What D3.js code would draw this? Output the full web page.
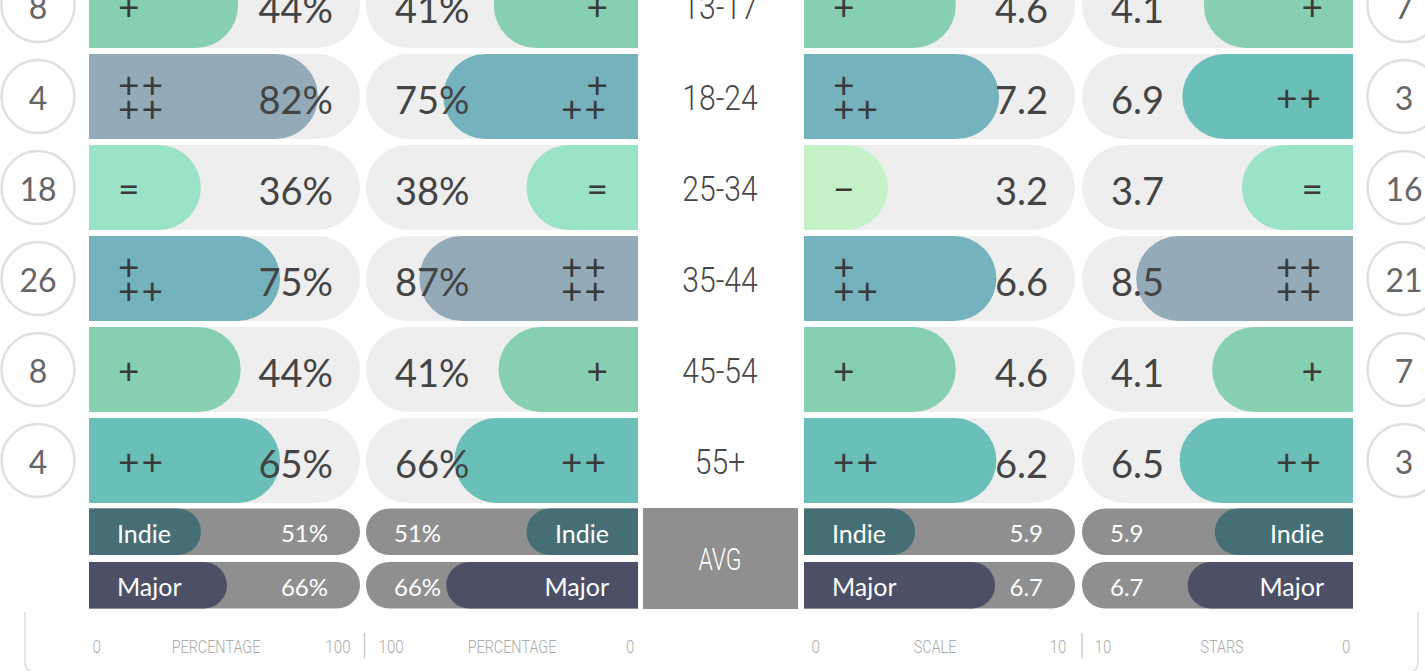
<!DOCTYPE html>
<html><head><meta charset="utf-8">
<script src="https://cdn.jsdelivr.net/npm/d3@7"></script>
<style>body{margin:0;background:#fff;overflow:hidden} svg{display:block}</style>
</head><body><svg id="c" width="1425" height="671"></svg>
<script>
// ---------- data ----------
const ages = ["13-17", "18-24", "25-34", "35-44", "45-54", "55+"];
const countLeft  = [8, 4, 18, 26, 8, 4];
const countRight = [7, 3, 16, 21, 7, 3];

const pctLeft   = [44, 82, 36, 75, 44, 65];      // label values (%)
const pctRight  = [41, 75, 38, 87, 41, 66];
const scaleVals = [4.6, 7.2, 3.2, 6.6, 4.6, 6.2];
const starVals  = [4.1, 6.9, 3.7, 8.5, 4.1, 6.5];

// bar extents (axis units)
const barPctLeft  = [55, 84.5, 41.3, 70.5, 56, 70.5];
const barPctRight = [53, 71.6, 41, 80.4, 51.3, 67.5];
const barScale    = [5.6, 7.2, 3.1, 7.1, 5.6, 7.1];
const barStars    = [5.5, 6.3, 4.1, 8.0, 5.2, 6.4];

const symLeft  = ["+", "++++", "=", "+++", "+", "++"];
const symRight = ["+", "+++", "=", "++++", "+", "++"];
const symScale = ["+", "+++", "−", "+++", "+", "++"];
const symStars = ["+", "++", "=", "++++", "+", "++"];

const avgGroups    = ["Indie", "Major"];
const avgPctLeft   = ["51%", "66%"];
const avgPctRight  = ["51%", "66%"];
const avgScale     = ["5.9", "6.7"];
const avgStars     = ["5.9", "6.7"];
const avgBarPctL   = [41.3, 50.9];
const avgBarPctR   = [41, 70.5];
const avgBarScale  = [4.1, 7.05];
const avgBarStars  = [5.1, 6.1];

const axisLabels = ["PERCENTAGE", "PERCENTAGE", "SCALE", "STARS"];
const axisTicksPct = [0, 100];
const axisTicksTen = [0, 10];

// ---------- styles ----------
const symColor = {"−": "#c5f2c7", "=": "#9ae3c7", "+": "#86cfb0", "++": "#6abfb8", "+++": "#74b3bd", "++++": "#93abb9"};
const groupColor = {"Indie": "#466f75", "Major": "#4b5066"};
const VALFONT = "Lato, 'Open Sans', sans-serif";
const NARROW = "Roboto, 'Liberation Sans', sans-serif";
const SQ = 0.84;

const svg = d3.select("#c");

// ---------- scales ----------
const y = d3.scaleBand().domain(ages).range([-40, -40 + 91 * 6]).paddingInner(6 / 91).paddingOuter(3 / 91);
const yAvg = d3.scaleBand().domain(avgGroups).range([505, 612]).paddingInner(7 / 54).paddingOuter(3.5 / 54);
const xPL = d3.scaleLinear().domain([0, 100]).range([89, 360]);
const xPR = d3.scaleLinear().domain([0, 100]).range([638, 366]);
const xSc = d3.scaleLinear().domain([0, 10]).range([804, 1075]);
const xSt = d3.scaleLinear().domain([0, 10]).range([1353, 1082]);

function pillRight(x0, x1, yy, h) {
  const r = Math.min(h / 2, x1 - x0);
  return `M${x0},${yy}H${x1 - r}A${r},${r} 0 0 1 ${x1 - r},${yy + h}H${x0}Z`;
}
function pillLeft(x0, x1, yy, h) {
  const r = Math.min(h / 2, x1 - x0);
  return `M${x1},${yy}H${x0 + r}A${r},${r} 0 0 0 ${x0 + r},${yy + h}H${x1}Z`;
}
function narrow(g, x, yy, txt, size, fill, anchor, sq) {
  return g.append("text")
    .attr("transform", `translate(${x},${yy}) scale(${sq || SQ},1)`)
    .attr("text-anchor", anchor || "middle").attr("dominant-baseline", "central")
    .attr("font-family", NARROW).attr("font-weight", 300)
    .attr("font-size", size).attr("fill", fill).text(txt);
}

// ---------- circles ----------
function circles(cx, counts) {
  const g = svg.append("g");
  g.selectAll("circle").data(ages).join("circle")
    .attr("cx", cx).attr("cy", d => y(d) + y.bandwidth() / 2).attr("r", 36.5)
    .attr("fill", "#fff").attr("stroke", "#e0e0e0").attr("stroke-width", 2.5);
  g.selectAll("text").data(ages).join("text")
    .attr("x", cx).attr("y", (d) => y(d) + y.bandwidth() / 2 + 1)
    .attr("text-anchor", "middle").attr("dominant-baseline", "central")
    .attr("font-family", VALFONT).attr("font-size", 32).attr("fill", "#666")
    .text((d, i) => counts[i]);
}
circles(38, countLeft);
circles(1404, countRight);

// ---------- panels ----------
function panel(scale, dir, bars, labels, syms, fmt) {
  const g = svg.append("g");
  const h = y.bandwidth();
  const x0 = scale.range()[0], x1 = scale.range()[1];
  g.selectAll("path.bg").data(ages).join("path").attr("class", "bg")
    .attr("d", d => dir > 0 ? pillRight(x0, x1, y(d), h) : pillLeft(x1, x0, y(d), h))
    .attr("fill", "#eeeeee");
  g.selectAll("path.bar").data(ages).join("path").attr("class", "bar")
    .attr("d", (d, i) => dir > 0 ? pillRight(x0, scale(bars[i]), y(d), h) : pillLeft(scale(bars[i]), x0, y(d), h))
    .attr("fill", (d, i) => symColor[syms[i]]);
  g.selectAll("text.val").data(ages).join("text").attr("class", "val")
    .attr("x", dir > 0 ? x1 - 27 : x1 + 29)
    .attr("y", d => y(d) + h / 2 + 2)
    .attr("text-anchor", dir > 0 ? "end" : "start").attr("dominant-baseline", "central")
    .attr("font-family", VALFONT).attr("font-size", 38).attr("fill", "#444")
    .text((d, i) => fmt(labels[i]));
  const sx = dir > 0 ? x0 + 29 : x0 - 30;
  const anchor = dir > 0 ? "start" : "end";
  ages.forEach((d, i) => {
    const s = syms[i], cy = y(d) + h / 2;
    let lines;
    if (s === "++++") lines = [["++", -13], ["++", 11]];
    else if (s === "+++") lines = [["+", -13], ["++", 11]];
    else lines = [[s, 0]];
    lines.forEach(([t, dy]) => {
      g.append("text").attr("x", sx).attr("y", cy + dy)
        .attr("text-anchor", anchor).attr("dominant-baseline", "central")
        .attr("font-family", VALFONT).attr("font-size", 37).attr("fill", "#3a3a3a")
        .attr("letter-spacing", t.length > 1 ? 2 : 0)
        .text(t);
    });
  });
}
panel(xPL, 1, barPctLeft, pctLeft, symLeft, v => v + "%");
panel(xPR, -1, barPctRight, pctRight, symRight, v => v + "%");
panel(xSc, 1, barScale, scaleVals, symScale, v => d3.format(".1f")(v));
panel(xSt, -1, barStars, starVals, symStars, v => d3.format(".1f")(v));

// ---------- age labels ----------
const ga = svg.append("g");
ages.forEach(d => narrow(ga, 720, y(d) + y.bandwidth() / 2 + 2, d, 35, "#484848", "middle", 0.86));

// ---------- averages ----------
function avgPanel(scale, dir, bars, labels) {
  const g = svg.append("g");
  const h = yAvg.bandwidth();
  const x0 = scale.range()[0], x1 = scale.range()[1];
  g.selectAll("path.bg").data(avgGroups).join("path")
    .attr("d", d => dir > 0 ? pillRight(x0, x1, yAvg(d), h) : pillLeft(x1, x0, yAvg(d), h))
    .attr("fill", "#8f8f8f");
  g.selectAll("path.bar").data(avgGroups).join("path")
    .attr("d", (d, i) => dir > 0 ? pillRight(x0, scale(bars[i]), yAvg(d), h) : pillLeft(scale(bars[i]), x0, yAvg(d), h))
    .attr("fill", d => groupColor[d]);
  g.selectAll("text.name").data(avgGroups).join("text")
    .attr("x", dir > 0 ? x0 + 28 : x0 - 29).attr("y", d => yAvg(d) + h / 2 + 1)
    .attr("text-anchor", dir > 0 ? "start" : "end").attr("dominant-baseline", "central")
    .attr("font-family", VALFONT).attr("font-size", 25).attr("fill", "#fff")
    .text(d => d);
  g.selectAll("text.v").data(avgGroups).join("text")
    .attr("x", dir > 0 ? x1 - 32 : x1 + 28).attr("y", d => yAvg(d) + h / 2 + 1)
    .attr("text-anchor", dir > 0 ? "end" : "start").attr("dominant-baseline", "central")
    .attr("font-family", VALFONT).attr("font-size", 24).attr("fill", "#fff")
    .text((d, i) => labels[i]);
}
avgPanel(xPL, 1, avgBarPctL, avgPctLeft);
avgPanel(xPR, -1, avgBarPctR, avgPctRight);
avgPanel(xSc, 1, avgBarScale, avgScale);
avgPanel(xSt, -1, avgBarStars, avgStars);

svg.append("rect").attr("x", 643).attr("y", 508).attr("width", 155).attr("height", 101).attr("fill", "#8f8f8f");
narrow(svg, 720, 560, "AVG", 31, "#fff", "middle", 0.74);

// ---------- bottom axes ----------
// offsets: [offset for first tick, offset for last tick], label centre
function axisRow(scale, ticks, label, offs, cx) {
  const ax = d3.axisBottom(scale).tickValues(ticks).tickSize(0).tickPadding(0);
  const g = svg.append("g").attr("transform", "translate(0,640)").call(ax);
  g.select(".domain").remove();
  const first = scale(ticks[0]) < scale(ticks[1]);
  g.selectAll(".tick text")
    .attr("font-family", NARROW).attr("font-weight", 300).attr("font-size", 18).attr("fill", "#aaa")
    .attr("y", 0).attr("dy", 0)
    .attr("dominant-baseline", "central")
    .attr("transform", `translate(0,7) scale(${SQ},1)`)
    .attr("text-anchor", (d, i) => ((i === 0) === first) ? "start" : "end")
    .attr("x", (d, i) => offs[i] / SQ);
  narrow(svg, cx, 647, label, 18, "#aaa", "middle", 0.8);
}
axisRow(xPL, axisTicksPct, axisLabels[0], [3, -10], 216);
axisRow(xPR, axisTicksPct, axisLabels[1], [-4, 12], 512);
axisRow(xSc, axisTicksTen, axisLabels[2], [7, -9], 935);
axisRow(xSt, axisTicksTen, axisLabels[3], [-3, 12], 1222);

[364.5, 1082].forEach(x => svg.append("line").attr("x1", x).attr("x2", x).attr("y1", 633).attr("y2", 658)
  .attr("stroke", "#ccc").attr("stroke-width", 1.5));

svg.append("path").attr("d", "M25,612V662Q25,672 35,672H1408Q1418,672 1418,662V612")
  .attr("fill", "none").attr("stroke", "#ddd").attr("stroke-width", 1.5);
</script></body></html>
